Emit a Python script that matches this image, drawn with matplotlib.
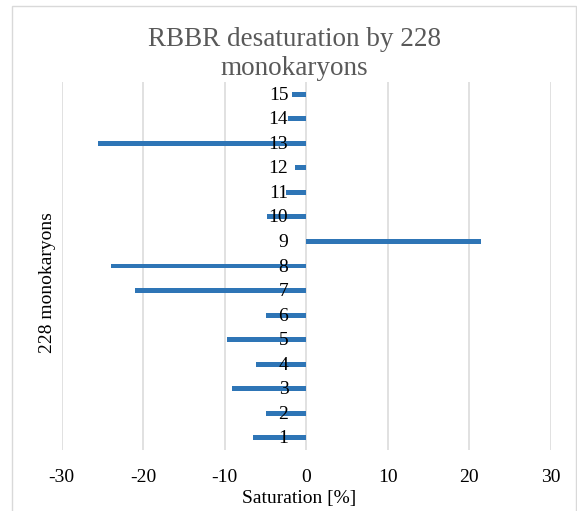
import matplotlib
matplotlib.use('Agg')
import numpy as np
from matplotlib import pyplot as plt
from matplotlib.patches import Rectangle

plt.rcParams['font.family'] = ['Liberation Serif', 'DejaVu Serif']

# data
monokaryons = ['1', '2', '3', '4', '5', '6', '7', '8', '9', '10', '11', '12', '13', '14', '15']
saturation = [-6.6, -4.95, -9.1, -6.15, -9.7, -4.9, -21.0, -24.0, 21.4, -4.8, -2.5, -1.35, -25.5, -2.3, -1.7]
xticks = [-30, -20, -10, 0, 10, 20, 30]

fig = plt.figure(figsize=(5.77, 5.11), dpi=100)
ax = fig.add_axes([0.1069, 0.1194, 0.848, 0.7201])

# light frame around the chart area (Excel style)
fig.patches.append(Rectangle((12 / 577, -0.05), 564 / 577, 1 - 5.5 / 511 + 0.05,
                             transform=fig.transFigure, fill=False,
                             edgecolor='#d9d9d9', linewidth=1.0))

ypos = np.arange(len(monokaryons))
ax.barh(ypos, saturation, height=0.2, color='#2e75b6', zorder=3)

ax.set_xlim(-30, 30)
ax.set_ylim(-0.5, len(monokaryons) - 0.5)
ax.set_xticks(xticks)
ax.set_xticklabels([str(t) for t in xticks], fontsize=14)
ax.set_yticks([])
ax.tick_params(axis='x', length=0, pad=14)
for s in ax.spines.values():
    s.set_visible(False)
ax.grid(axis='x', color='#d9d9d9', linewidth=1.1, zorder=0)

# category labels sit next to the zero line
for y, lab in zip(ypos, monokaryons):
    ax.annotate(lab, xy=(0, y), xytext=(-18, -1), textcoords='offset pixels',
                ha='right', va='center', fontsize=14, color='black', zorder=4)

ax.set_xlabel('Saturation [%]', fontsize=14, labelpad=0)
ax.xaxis.set_label_coords((299 - 61.7) / (551 - 61.7), -(503 - 450) / 368, transform=ax.transAxes)
ax.xaxis.label.set_va('baseline')

fig.text(47 / 577, 1 - 283 / 511, '228 monokaryons', rotation=90, fontsize=14,
         ha='center', va='center')

# title: baseline of last line placed at y=75 px
fig.text(294 / 577, 1 - 75 / 511, 'RBBR desaturation by 228\nmonokaryons',
         fontsize=19.5, color='#595959', ha='center', va='baseline',
         linespacing=1.2, multialignment='center')

fig.savefig('out.png', dpi=100)
